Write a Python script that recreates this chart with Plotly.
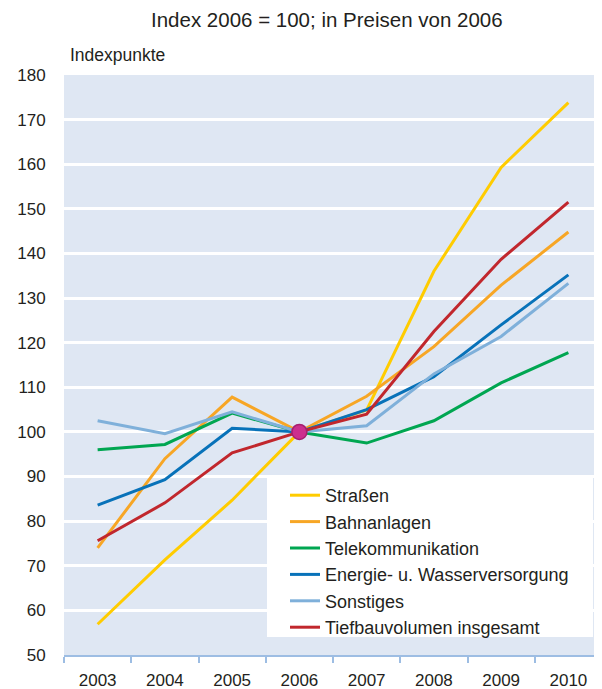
import plotly.graph_objects as go

years = ["2003", "2004", "2005", "2006", "2007", "2008", "2009", "2010"]

strassen = [56.9, 71.3, 84.7, 100.0, 104.9, 136.0, 159.3, 173.8]
bahnanlagen = [74.0, 94.0, 107.8, 100.0, 108.0, 119.1, 132.9, 144.8]
telekom = [96.0, 97.2, 104.2, 100.0, 97.5, 102.5, 111.0, 117.8]
energie = [83.6, 89.3, 100.8, 100.0, 105.0, 112.4, 124.0, 135.2]
sonstiges = [102.5, 99.6, 104.5, 100.0, 101.4, 113.0, 121.4, 133.3]
tiefbau = [75.6, 84.1, 95.3, 100.0, 104.0, 122.5, 138.7, 151.5]

series = [
    ("Straßen", strassen, "#ffcc00"),
    ("Bahnanlagen", bahnanlagen, "#f7a625"),
    ("Telekommunikation", telekom, "#00a651"),
    ("Energie- u. Wasserversorgung", energie, "#0872b9"),
    ("Sonstiges", sonstiges, "#7fb0da"),
    ("Tiefbauvolumen insgesamt", tiefbau, "#c1272d"),
]

base_year = ["2006"]
base_value = [100]

FONT = "Liberation Sans, Arial, sans-serif"
TXT = "#231f20"
# page body has an 8px margin, so the figure is 8px smaller than the window
W, H = 594, 681
L, R, T, B = 56, 0, 67, 34
PLOT_X0, PLOT_Y1 = 64, 655   # screen coords of plot left / bottom
pw, ph = 538, 580

def px(x):
    return (x - PLOT_X0) / pw

def py(y):
    return (PLOT_Y1 - y) / ph

fig = go.Figure()
for name, vals, col in series:
    fig.add_trace(go.Scatter(x=years, y=vals, name=name, mode="lines",
                             line=dict(color=col, width=3)))

fig.add_trace(go.Scatter(x=base_year, y=base_value, mode="markers", showlegend=False,
                         marker=dict(size=15, color="#cc2f8e",
                                     line=dict(color="#a52070", width=1.5))))

fig.add_shape(type="rect", xref="paper", yref="paper",
              x0=px(267), x1=px(593), y0=py(637), y1=py(478),
              fillcolor="white", line=dict(width=0), layer="above")

fig.update_layout(
    width=W, height=H,
    margin=dict(l=L, r=R, t=T, b=B),
    paper_bgcolor="white",
    plot_bgcolor="#dfe7f3",
    font=dict(family=FONT, size=17, color=TXT),
    showlegend=True,
    legend=dict(x=px(285), y=py(477), xanchor="left", yanchor="top",
                bgcolor="rgba(0,0,0,0)", borderwidth=0,
                font=dict(size=18, family=FONT, color=TXT),
                tracegroupgap=0, itemwidth=30),
    xaxis=dict(type="category", tickson="boundaries", ticks="outside",
               ticklen=6, tickcolor="#9dbde3", tickwidth=1.5,
               showline=True, linecolor="#9dbde3", linewidth=1.5,
               showgrid=False, zeroline=False, ticklabelstandoff=9,
               tickfont=dict(size=17, family=FONT, color=TXT),
               range=[-0.5, 7.5], fixedrange=True),
    yaxis=dict(range=[50, 180], dtick=10, tick0=50,
               showgrid=True, gridcolor="white", gridwidth=2.5,
               zeroline=False, showline=False,
               ticks="outside", ticklen=14, tickcolor="rgba(0,0,0,0)",
               tickfont=dict(size=17, family=FONT, color=TXT)),
    annotations=[
        dict(text="Index 2006 = 100; in Preisen von 2006", xref="paper", yref="paper",
             x=px(327), y=py(20), xanchor="center", yanchor="middle", showarrow=False,
             font=dict(size=20.5, family=FONT, color=TXT)),
        dict(text="Indexpunkte", xref="paper", yref="paper",
             x=px(68), y=py(55), xanchor="left", yanchor="middle", showarrow=False,
             font=dict(size=17.5, family=FONT, color=TXT)),
    ],
)

fig.write_html("out.html")
